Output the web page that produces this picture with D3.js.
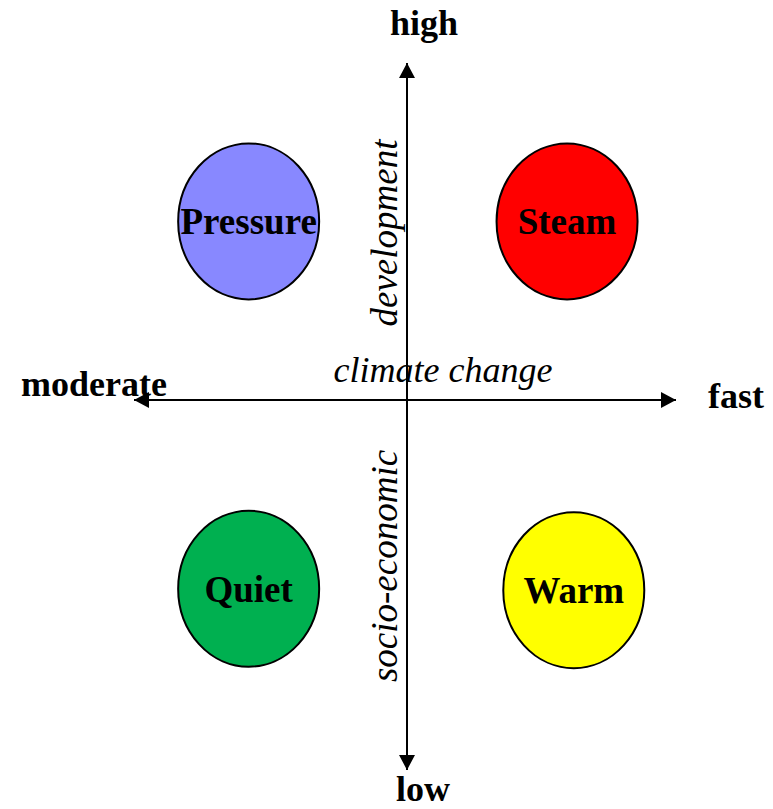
<!DOCTYPE html>
<html>
<head>
<meta charset="utf-8">
<script src="https://cdn.jsdelivr.net/npm/d3@7"></script>
<style>
  html, body { margin: 0; padding: 0; background: #ffffff; }
  svg { display: block; }
  text { font-family: "Liberation Serif", "Times New Roman", serif; fill: #000; }
</style>
</head>
<body>
<div id="chart"></div>
<script>
// scenarios: name, position on climate axis (-1 moderate .. 1 fast),
// position on development axis (-1 low .. 1 high), fill colour
var scenarioNames = ["Pressure", "Steam", "Quiet", "Warm"];
var climateValues = [-0.58, 0.595, -0.58, 0.62];
var developmentValues = [0.53, 0.53, -0.51, -0.514];
var scenarioColors = ["#8888ff", "#ff0000", "#00b050", "#ffff00"];

// axis end labels
var climateLabels = ["moderate", "fast"];
var developmentLabels = ["low", "high"];
var climateTitle = "climate change";
var developmentTitle = ["socio-economic", "development"];

var width = 773;
var height = 809;

var svg = d3.select("#chart")
    .append("svg")
    .attr("width", width)
    .attr("height", height);

// piecewise scales so that 0 sits where the axes cross
var xScale = d3.scaleLinear()
    .domain([-1, 0, 1])
    .range([134, 407, 676]);

var yScale = d3.scaleLinear()
    .domain([-1, 0, 1])
    .range([770, 400, 63]);

// arrow head marker
svg.append("defs")
    .append("marker")
    .attr("id", "arrow")
    .attr("markerUnits", "userSpaceOnUse")
    .attr("viewBox", "0 0 15 16")
    .attr("refX", 15)
    .attr("refY", 8)
    .attr("markerWidth", 15)
    .attr("markerHeight", 16)
    .attr("orient", "auto")
    .append("path")
    .attr("d", "M0,0 L15,8 L0,16 Z")
    .attr("fill", "#000");

// horizontal axis (double headed)
svg.append("line")
    .attr("x1", xScale(0)).attr("y1", yScale(0))
    .attr("x2", xScale(1)).attr("y2", yScale(0))
    .attr("stroke", "#000").attr("stroke-width", 2)
    .attr("marker-end", "url(#arrow)");
svg.append("line")
    .attr("x1", xScale(0)).attr("y1", yScale(0))
    .attr("x2", xScale(-1)).attr("y2", yScale(0))
    .attr("stroke", "#000").attr("stroke-width", 2)
    .attr("marker-end", "url(#arrow)");

// vertical axis (double headed)
svg.append("line")
    .attr("x1", xScale(0)).attr("y1", yScale(0))
    .attr("x2", xScale(0)).attr("y2", yScale(1))
    .attr("stroke", "#000").attr("stroke-width", 2)
    .attr("marker-end", "url(#arrow)");
svg.append("line")
    .attr("x1", xScale(0)).attr("y1", yScale(0))
    .attr("x2", xScale(0)).attr("y2", yScale(-1))
    .attr("stroke", "#000").attr("stroke-width", 2)
    .attr("marker-end", "url(#arrow)");

// end labels
svg.append("text")
    .attr("x", 21).attr("y", 396)
    .style("font-size", "36px").style("font-weight", "bold")
    .text(climateLabels[0]);
svg.append("text")
    .attr("x", 708).attr("y", 408)
    .style("font-size", "36px").style("font-weight", "bold")
    .text(climateLabels[1]);
svg.append("text")
    .attr("x", 424).attr("y", 35)
    .attr("text-anchor", "middle")
    .style("font-size", "36px").style("font-weight", "bold")
    .text(developmentLabels[1]);
svg.append("text")
    .attr("x", 423).attr("y", 801)
    .attr("text-anchor", "middle")
    .style("font-size", "36px").style("font-weight", "bold")
    .text(developmentLabels[0]);

// axis titles
svg.append("text")
    .attr("x", 443).attr("y", 382)
    .attr("text-anchor", "middle")
    .style("font-size", "36px").style("font-style", "italic")
    .text(climateTitle);

svg.append("text")
    .attr("transform", "translate(397,233) rotate(-90)")
    .attr("text-anchor", "middle")
    .style("font-size", "37px").style("font-style", "italic")
    .text(developmentTitle[1]);

svg.append("text")
    .attr("transform", "translate(397,566) rotate(-90)")
    .attr("text-anchor", "middle")
    .style("font-size", "37px").style("font-style", "italic")
    .text(developmentTitle[0]);

// scenario ellipses
var scenarios = scenarioNames.map(function (name, i) {
    return { name: name, x: climateValues[i], y: developmentValues[i], color: scenarioColors[i] };
});

var node = svg.selectAll(".scenario")
    .data(scenarios)
    .enter()
    .append("g")
    .attr("class", "scenario");

node.append("ellipse")
    .attr("cx", function (d) { return xScale(d.x); })
    .attr("cy", function (d) { return yScale(d.y); })
    .attr("rx", 70.5)
    .attr("ry", 78)
    .attr("fill", function (d) { return d.color; })
    .attr("stroke", "#000")
    .attr("stroke-width", 2);

node.append("text")
    .attr("x", function (d) { return xScale(d.x); })
    .attr("y", function (d) { return yScale(d.y) + 13; })
    .attr("text-anchor", "middle")
    .style("font-size", "37px")
    .style("font-weight", "bold")
    .text(function (d) { return d.name; });
</script>
</body>
</html>
